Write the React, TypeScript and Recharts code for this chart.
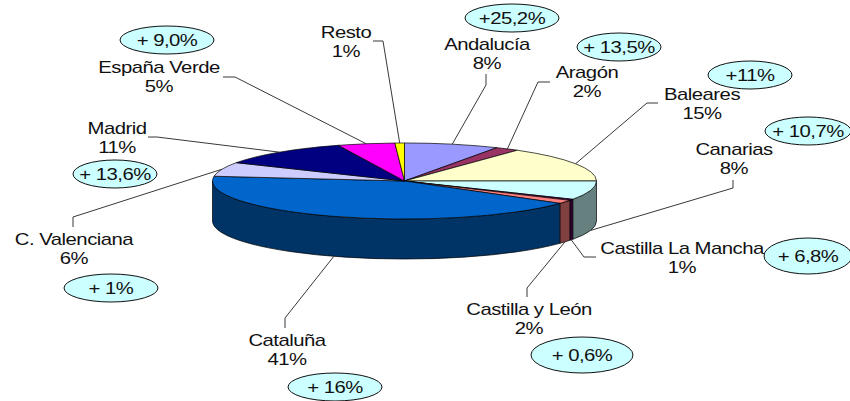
import { PieChart, Pie } from "recharts";

const regions = [
  "Andalucía",
  "Aragón",
  "Baleares",
  "Canarias",
  "Castilla La Mancha",
  "Castilla y León",
  "Cataluña",
  "C. Valenciana",
  "Madrid",
  "España Verde",
  "Resto",
];
const shares = [8, 2, 15, 8, 0.5, 1.5, 42, 6, 11.4, 4.8, 0.8];
const shareLabels = ["8%", "2%", "15%", "8%", "1%", "2%", "41%", "6%", "11%", "5%", "1%"];
const growthLabels = [
  "+25,2%",
  "+ 13,5%",
  "+11%",
  "+ 10,7%",
  "+ 6,8%",
  "+ 0,6%",
  "+ 16%",
  "+ 1%",
  "+ 13,6%",
  "+ 9,0%",
  "",
];

const topColors = [
  "#9999ff", "#993366", "#ffffcc", "#ccffff", "#660066", "#ff8080",
  "#0066cc", "#ccccff", "#000080", "#ff00ff", "#ffff00",
];
const sideColors = [
  "#4d4d80", "#4d1a33", "#808066", "#668080", "#330033", "#804040",
  "#003366", "#666680", "#000040", "#800080", "#808000",
];

// label centre x, first baseline, then leader elbow points
const labelLayout = [
  { x: 487, y: 50, elbow: [[486, 85], [486, 74]] },
  { x: 587, y: 78, elbow: [[538, 82], [550, 82]] },
  { x: 702, y: 100, elbow: [[647, 103], [658, 103]] },
  { x: 734, y: 155, elbow: [[733, 188], [733, 180]] },
  { x: 682, y: 254, elbow: [[584, 257], [596, 257]] },
  { x: 529, y: 315, elbow: [[527, 288], [527, 297]] },
  { x: 287, y: 346, elbow: [[285, 318], [285, 328]] },
  { x: 74, y: 245, elbow: [[73, 217], [73, 227]] },
  { x: 117, y: 134, elbow: [[157, 137], [148, 137]] },
  { x: 159, y: 73, elbow: [[235, 77], [223, 77]] },
  { x: 346, y: 38, elbow: [[383, 41], [373, 41]] },
];
const bubbleLayout = [
  { cx: 512, cy: 18, rx: 47, ry: 14 },
  { cx: 619, cy: 47, rx: 42, ry: 14 },
  { cx: 750, cy: 75, rx: 42, ry: 14 },
  { cx: 808, cy: 131, rx: 43, ry: 14 },
  { cx: 808, cy: 256, rx: 44, ry: 18 },
  { cx: 582, cy: 355, rx: 51, ry: 18 },
  { cx: 335, cy: 387, rx: 47, ry: 14 },
  { cx: 111, cy: 288, rx: 47, ry: 14 },
  { cx: 115, cy: 174, rx: 42, ry: 14 },
  { cx: 167, cy: 40, rx: 47, ry: 14 },
  null,
];

const TILT = 0.198;
const DEPTH = 40;
const RAD = Math.PI / 180;

const tableData = regions.map((name, i) => ({
  name,
  value: shares[i],
  fill: topColors[i],
  side: sideColors[i],
}));

const rim = (cx: number, cy: number, r: number, deg: number) => [
  cx + r * Math.cos(deg * RAD),
  cy - r * TILT * Math.sin(deg * RAD),
];

// Recharts gives us the angles, we flatten them on to an ellipse
const TiltedSector = (props: any) => {
  const { cx, cy, outerRadius: r, startAngle, endAngle, fill, side } = props;
  const ry = r * TILT;
  const [x0, y0] = rim(cx, cy, r, startAngle);
  const [x1, y1] = rim(cx, cy, r, endAngle);
  const large = Math.abs(startAngle - endAngle) > 180 ? 1 : 0;
  const top = `M${cx},${cy} L${x0},${y0} A${r},${ry} 0 ${large} 1 ${x1},${y1} Z`;

  // only the front half of the rim shows a wall
  const a = Math.min(startAngle, 0);
  const b = Math.max(endAngle, -180);
  let wall = null;
  if (a > b) {
    const [wx0, wy0] = rim(cx, cy, r, a);
    const [wx1, wy1] = rim(cx, cy, r, b);
    wall = (
      <path
        d={`M${wx0},${wy0} A${r},${ry} 0 0 1 ${wx1},${wy1} L${wx1},${wy1 + DEPTH} A${r},${ry} 0 0 0 ${wx0},${wy0 + DEPTH} Z`}
        fill={side}
        stroke="#000"
        strokeWidth={0.7}
      />
    );
  }
  return (
    <g>
      {wall}
      <path d={top} fill={fill} stroke="#000" strokeWidth={0.7} />
    </g>
  );
};

const StretchedText = ({ x, y, children }: any) => (
  <text
    transform={`translate(${x},${y}) scale(1.27,1)`}
    textAnchor="middle"
    fontFamily="'Liberation Sans', Arial, sans-serif"
    fontSize={16}
    letterSpacing={-0.4}
    fill="#111"
  >
    {children}
  </text>
);

const renderLabel = (props: any) => {
  const { cx, cy, outerRadius, midAngle, index } = props;
  const layout = labelLayout[index];
  const bubble = bubbleLayout[index];
  let [sx, sy] = rim(cx, cy, outerRadius, midAngle);
  const norm = ((midAngle % 360) + 360) % 360;
  if (norm > 180) sy += DEPTH;
  const pts = [[sx, sy], ...layout.elbow].map((p) => p.join(",")).join(" ");
  return (
    <g key={regions[index]}>
      <polyline points={pts} fill="none" stroke="#222" strokeWidth={0.9} />
      <StretchedText x={layout.x} y={layout.y}>{regions[index]}</StretchedText>
      <StretchedText x={layout.x} y={layout.y + 19}>{shareLabels[index]}</StretchedText>
      {bubble && (
        <g>
          <ellipse {...bubble} fill="#ccffff" stroke="#111" strokeWidth={1} />
          <StretchedText x={bubble.cx} y={bubble.cy + 6}>{growthLabels[index]}</StretchedText>
        </g>
      )}
    </g>
  );
};

export default function App() {
  return (
    <div style={{ position: "absolute", left: 0, top: 0, width: 850, height: 401, background: "#fff" }}>
      <PieChart width={850} height={401} margin={{ top: 0, right: 0, bottom: 0, left: 0 }}>
        <Pie
          data={tableData}
          dataKey="value"
          nameKey="name"
          cx={404.5}
          cy={181}
          innerRadius={0}
          outerRadius={192}
          startAngle={90}
          endAngle={-270}
          stroke="#000"
          shape={TiltedSector}
          label={renderLabel}
          labelLine={false}
          isAnimationActive={false}
        />
      </PieChart>
    </div>
  );
}
